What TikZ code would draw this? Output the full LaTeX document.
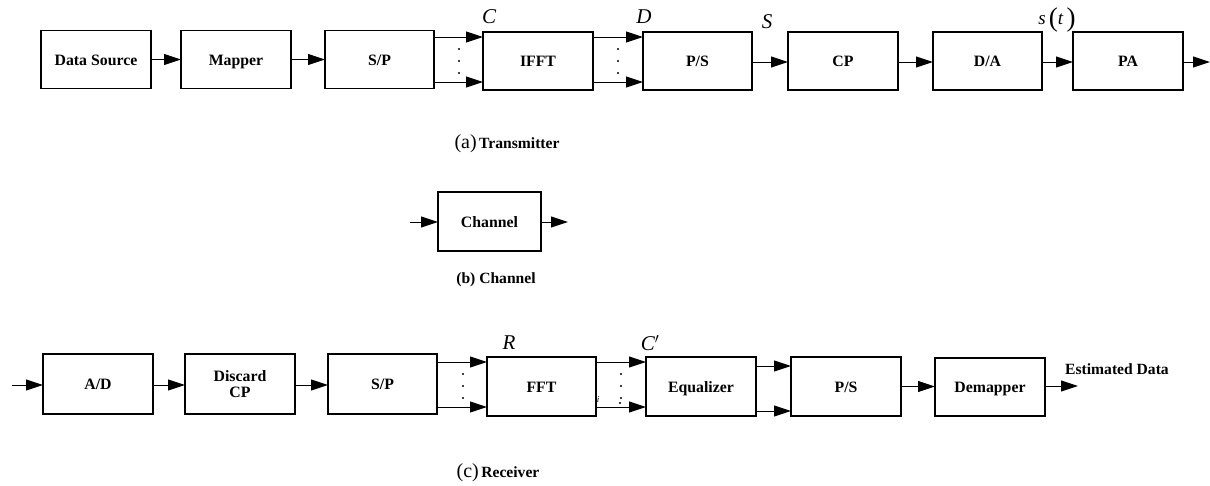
\documentclass[tikz,border=0pt]{standalone}
\usepackage{fontspec}
\setmainfont{Liberation Serif}
\usetikzlibrary{arrows.meta}
\begin{document}
\begin{tikzpicture}[x=1pt,y=-1pt,
  blkbase/.style={draw,line width=1.7pt,minimum width=110pt,minimum height=58pt,inner sep=0pt,outer sep=0pt,font=\fontsize{15.8}{17}\selectfont\bfseries,align=center},
  blk/.style={blkbase,text height=11.5pt,text depth=0.5pt},
  conn/.style={line width=1pt,-{Triangle[length=17pt,width=11pt]}},
  mlab/.style={font=\fontsize{21}{22}\selectfont\itshape,inner sep=0pt},
  captxt/.style={font=\fontsize{15.6}{17}\selectfont\bfseries,inner sep=0pt},
  dotc/.style={fill,circle,inner sep=0pt,minimum size=2.2pt}]
\useasboundingbox (0,0) rectangle (1210,485);
% Transmitter
\node[blk] (ds) at (96,59.5) {Data Source};
\node[blk] (map) at (236,59.5) {Mapper};
\node[blk,minimum width=109pt] (sp) at (379.5,59.5) {S/P};
\node[blk] (ifft) at (538,61) {IFFT};
\node[blk,minimum width=109pt] (ps) at (697.5,61) {P/S};
\node[blk] (cp) at (843,61) {CP};
\node[blk,minimum width=109pt] (da) at (987.5,61) {D/A};
\node[blk] (pa) at (1128,61) {PA};
\coordinate (txout) at (1210,62);
\draw[conn] (ds.east) -- (ds.east -| map.west);
\draw[conn] (map.east) -- (map.east -| sp.west);
\draw[conn] ([yshift=22.5pt]sp.east) -- ([yshift=22.5pt]sp.east -| ifft.west);
\draw[conn] ([yshift=-22.5pt]sp.east) -- ([yshift=-22.5pt]sp.east -| ifft.west);
\draw[conn] ([yshift=24pt]ifft.east) -- ([yshift=24pt]ifft.east -| ps.west);
\draw[conn] ([yshift=-21pt]ifft.east) -- ([yshift=-21pt]ifft.east -| ps.west);
\draw[conn] ([yshift=-1pt]ps.east) -- ([yshift=-1pt]ps.east -| cp.west);
\draw[conn] ([yshift=-1pt]cp.east) -- ([yshift=-1pt]cp.east -| da.west);
\draw[conn] ([yshift=-1pt]da.east) -- ([yshift=-1pt]da.east -| pa.west);
\draw[conn] ([yshift=-1pt]pa.east) -- (txout);
\foreach \yy [count=\i] in {49,61,73} {
  \node[dotc] (dta\i) at (459,\yy) {};
  \node[dotc] (dtb\i) at (618,\yy) {};
}
\node[mlab] (lc) at (489,17) {C};
\node[mlab] (ld) at (644,17) {D};
\node[mlab] (ls) at (767,22) {S};
\node[inner sep=0pt,font=\fontsize{19}{20}\selectfont] (lst) at (1057,20) {\textit{s}\,{\fontsize{27}{27}\selectfont\raisebox{-2pt}{(}}\textit{t}\,{\fontsize{27}{27}\selectfont\raisebox{-2pt}{)}}};
\node[inner sep=0pt] (capa) at (507,144) {{\fontsize{20}{21}\selectfont (a)} {\fontsize{15.6}{17}\selectfont\bfseries Transmitter}};
% Channel
\node[blk,minimum width=103pt,minimum height=59pt] (ch) at (489.5,221.5) {Channel};
\coordinate (chin) at (410,222);
\coordinate (chout) at (568,222);
\draw[conn] (chin) -- (chin -| ch.west);
\draw[conn] (ch.east |- chout) -- (chout);
\node[captxt] (capb) at (496,280) {(b) Channel};
% Receiver
\node[blk,minimum height=60pt] (ad) at (98,384) {A/D};
\node[blkbase,minimum height=60pt] (dcp) at (240,384) {Discard\\[-1pt]CP};
\node[blk,minimum width=109pt,minimum height=60pt] (rsp) at (382.5,384) {S/P};
\node[blk,minimum width=109pt,minimum height=59pt] (fft) at (541.5,386.5) {FFT};
\node[blk,minimum height=59pt] (eq) at (701,386.5) {Equalizer};
\node[blk,minimum height=59pt] (rps) at (846,386.5) {P/S};
\node[blk] (dem) at (990,387) {Demapper};
\coordinate (rxin) at (12,385);
\coordinate (rxout) at (1078,386);
\draw[conn] (rxin) -- (rxin -| ad.west);
\draw[conn] ([yshift=-1pt]ad.east) -- ([yshift=-1pt]ad.east -| dcp.west);
\draw[conn] ([yshift=-1pt]dcp.east) -- ([yshift=-1pt]dcp.east -| rsp.west);
\draw[conn] ([yshift=22pt]rsp.east) -- ([yshift=22pt]rsp.east -| fft.west);
\draw[conn] ([yshift=-23pt]rsp.east) -- ([yshift=-23pt]rsp.east -| fft.west);
\draw[conn] ([yshift=24.5pt]fft.east) -- ([yshift=24.5pt]fft.east -| eq.west);
\draw[conn] ([yshift=-20.5pt]fft.east) -- ([yshift=-20.5pt]fft.east -| eq.west);
\draw[conn] ([yshift=20.5pt]eq.east) -- ([yshift=20.5pt]eq.east -| rps.west);
\draw[conn] ([yshift=-24.5pt]eq.east) -- ([yshift=-24.5pt]eq.east -| rps.west);
\draw[conn] (rps.east) -- (rps.east -| dem.west);
\draw[conn] (dem.east |- rxout) -- (rxout);
\foreach \yy [count=\i] in {374,386,398} {
  \node[dotc] (dtc\i) at (463,\yy) {};
  \node[dotc] (dtd\i) at (621,\yy) {};
}
\node[dotc] (dtd4) at (620,403) {};
\node[mlab] (lr) at (509,343) {R};
\node[mlab] (lcp) at (650,343) {C$^{\prime}$};
\node[inner sep=0pt,font=\fontsize{9}{10}\selectfont\itshape] (li) at (598,400) {i};
\node[captxt] (est) at (1117,369) {Estimated Data};
\node[inner sep=0pt] (capc) at (498,473) {{\fontsize{20}{21}\selectfont (c)} {\fontsize{15.6}{17}\selectfont\bfseries Receiver}};
\end{tikzpicture}
\end{document}
